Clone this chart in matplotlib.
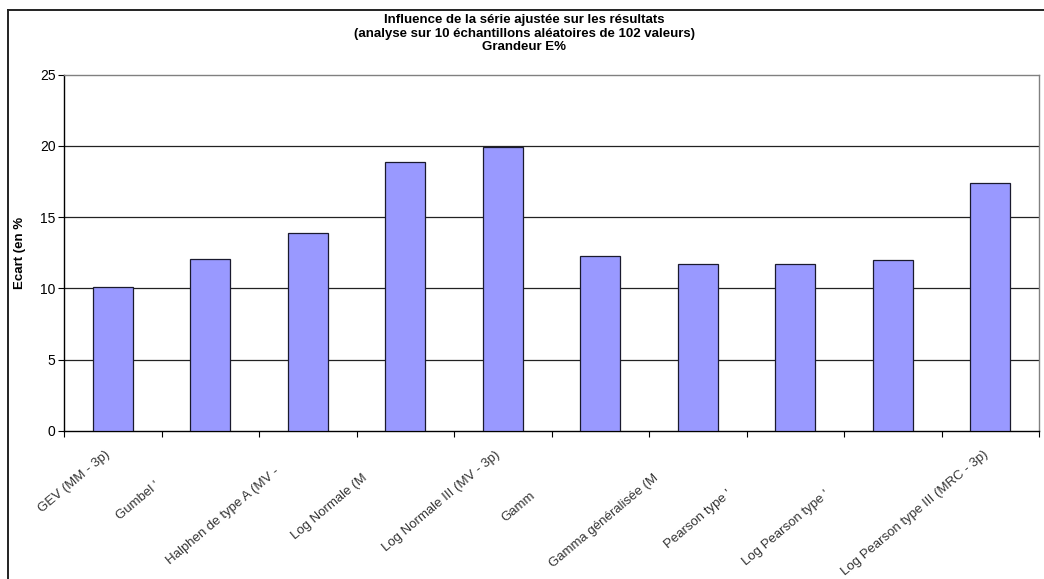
import numpy as np
import matplotlib
matplotlib.use("Agg")
from matplotlib import pyplot as plt
from matplotlib.lines import Line2D
from matplotlib.transforms import ScaledTranslation

plt.rcParams['font.family'] = ['Liberation Sans', 'DejaVu Sans']

# lois ajustees (libelles tels qu'affiches, tronques)
lois = ["GEV (MM - 3p)", "Gumbel '", "Halphen de type A (MV -", "Log Normale (M",
        "Log Normale III (MV - 3p)", "Gamm", "Gamma généralisée (M",
        "Pearson type '", "Log Pearson type '", "Log Pearson type III (MRC - 3p)"]
ecart = [10.1, 12.1, 13.9, 18.9, 19.9, 12.3, 11.7, 11.7, 12.0, 17.4]
y_ticks = [0, 5, 10, 15, 20, 25]

# decalage des libelles tronques le long de la diagonale (pixels)
decal = [0, 48, 26, 36, 0, 63, 37, 61, 61, 0]

fig = plt.figure(figsize=(10.44, 5.79), dpi=100)
ax = fig.add_axes([64 / 1044, 1 - 431 / 579, (1039 - 64) / 1044, (431 - 74.7) / 579])

x = np.arange(len(lois))
ax.bar(x, ecart, width=0.41, color='#9999FF', edgecolor='#1a1a2e', linewidth=0.9, zorder=3)

ax.set_xlim(-0.5, len(lois) - 0.5)
ax.set_ylim(0, 25)
ax.set_yticks(y_ticks)
ax.set_yticklabels([str(v) for v in y_ticks], fontsize=10)
ax.tick_params(axis='y', direction='out', length=4, width=0.8, pad=2)
for v in y_ticks[1:-1]:
    ax.axhline(v, color='#222222', linewidth=0.9, zorder=1)

# graduations entre les barres
ax.set_xticks(np.arange(len(lois) + 1) - 0.5)
ax.set_xticklabels([])
ax.tick_params(axis='x', direction='out', length=4, width=0.8)

for s in ['top', 'right']:
    ax.spines[s].set_color('#808080')
    ax.spines[s].set_linewidth(1.0)
for s in ['left', 'bottom']:
    ax.spines[s].set_color('black')
    ax.spines[s].set_linewidth(1.0)

trans = ax.get_xaxis_transform()
for i, (lab, d) in enumerate(zip(lois, decal)):
    off = ScaledTranslation(-(4 + d) / 100, -(22 + d * 0.65) / 100, fig.dpi_scale_trans)
    ax.text(i, 0, lab, transform=trans + off, rotation=40, rotation_mode='anchor',
            ha='right', va='center', fontsize=9.5, color='#333333')

ax.set_ylabel("Ecart (en %", fontsize=9.5, fontweight='bold')
ax.yaxis.set_label_coords(-38 / 975, 0.5)

fig.text(0.502, 1 - 33.5 / 579,
         "Influence de la série ajustée sur les résultats\n"
         "(analyse sur 10 échantillons aléatoires de 102 valeurs)\n"
         "Grandeur E%",
         ha='center', va='center', fontsize=9.5, fontweight='bold', linespacing=1.22)

# cadre du graphique
fig.add_artist(Line2D([8 / 1044, 8 / 1044], [0, 1 - 9.5 / 579], color='#222222', linewidth=1.4))
fig.add_artist(Line2D([8 / 1044, 1], [1 - 9.5 / 579, 1 - 9.5 / 579], color='#222222', linewidth=1.4))

fig.savefig("out.png", dpi=100)
